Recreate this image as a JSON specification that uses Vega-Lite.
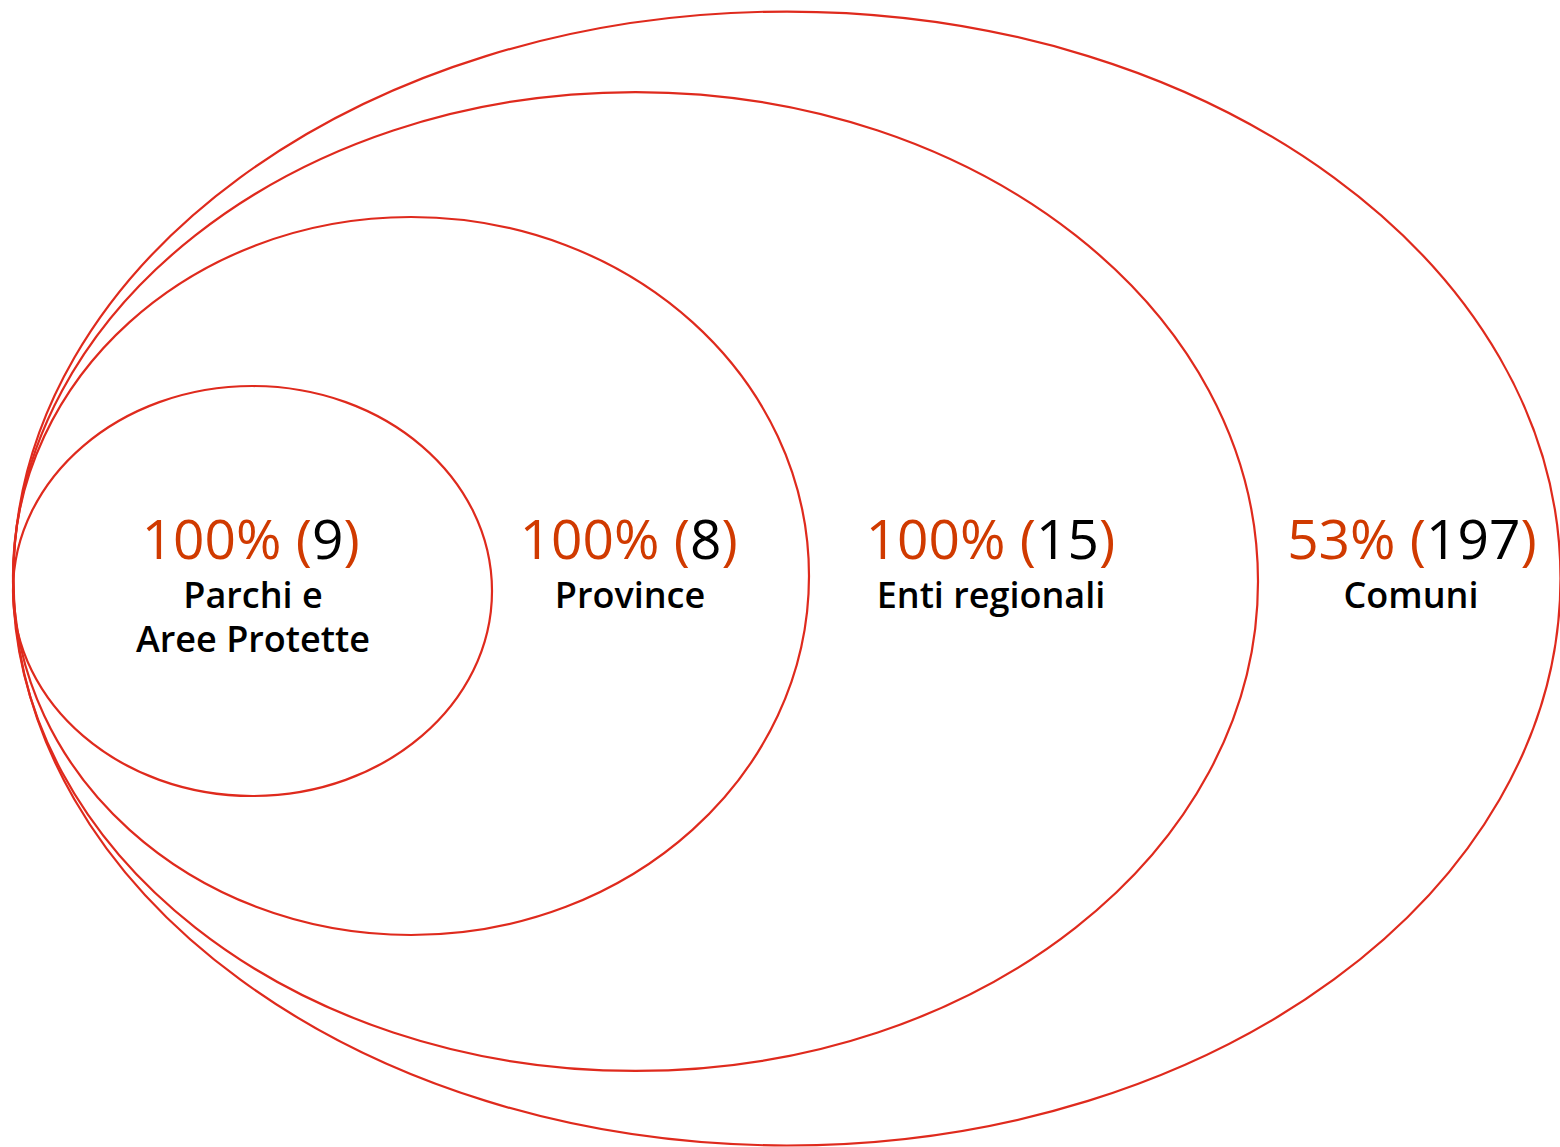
{
  "$schema": "https://vega.github.io/schema/vega-lite/v6.json",
  "autosize": {"type": "none"},
  "width": 1560,
  "height": 1147,
  "padding": 0,
  "background": "white",
  "config": {"view": {"stroke": null}},
  "datasets": {
    "ellipses": [
      {"name": "Comuni", "cx": 787, "cy": 578.5, "w": 1547},
      {"name": "Enti regionali", "cx": 635.5, "cy": 581.5, "w": 1245},
      {"name": "Province", "cx": 411, "cy": 576, "w": 796},
      {"name": "Parchi e Aree Protette", "cx": 252.5, "cy": 591, "w": 479}
    ],
    "labels": [
      {"name": "Parchi e\nAree Protette", "pct": "100% (", "num": "9", "cx": 253, "a": 312, "b": 343.5},
      {"name": "Province", "pct": "100% (", "num": "8", "cx": 630, "a": 690, "b": 721.5},
      {"name": "Enti regionali", "pct": "100% (", "num": "15", "cx": 991, "a": 1036, "b": 1099},
      {"name": "Comuni", "pct": "53% (", "num": "197", "cx": 1411, "a": 1426, "b": 1520.4}
    ]
  },
  "layer": [
    {
      "data": {"name": "ellipses"},
      "mark": {"type": "point", "filled": false, "fill": null, "stroke": "#df2a1d", "strokeWidth": 2.2, "opacity": 1},
      "encoding": {
        "x": {"field": "cx", "type": "quantitative", "scale": {"domain": [0, 1560], "nice": false, "zero": false}, "axis": null},
        "y": {"field": "cy", "type": "quantitative", "scale": {"domain": [0, 1147], "nice": false, "zero": false, "reverse": true}, "axis": null},
        "size": {"field": "w", "type": "quantitative", "scale": {"type": "pow", "exponent": 2, "domain": [0, 2000], "range": [0, 4000000]}, "legend": null},
        "shape": {
          "field": "name", "type": "nominal", "legend": null,
          "scale": {
            "domain": ["Comuni", "Enti regionali", "Province", "Parchi e Aree Protette"],
            "range": [
              "M -1 0 C -1 -0.4048 -0.5523 -0.733 0 -0.733 C 0.5523 -0.733 1 -0.4048 1 0 C 1 0.4048 0.5523 0.733 0 0.733 C -0.5523 0.733 -1 0.4048 -1 0 Z",
              "M -1 0 C -1 -0.4343 -0.5523 -0.7863 0 -0.7863 C 0.5523 -0.7863 1 -0.4343 1 0 C 1 0.4343 0.5523 0.7863 0 0.7863 C -0.5523 0.7863 -1 0.4343 -1 0 Z",
              "M -1 0 C -1 -0.4982 -0.5523 -0.902 0 -0.902 C 0.5523 -0.902 1 -0.4982 1 0 C 1 0.4982 0.5523 0.902 0 0.902 C -0.5523 0.902 -1 0.4982 -1 0 Z",
              "M -1 0 C -1 -0.4727 -0.5523 -0.8559 0 -0.8559 C 0.5523 -0.8559 1 -0.4727 1 0 C 1 0.4727 0.5523 0.8559 0 0.8559 C -0.5523 0.8559 -1 0.4727 -1 0 Z"
            ]
          }
        }
      }
    },
    {
      "data": {"name": "labels"},
      "mark": {"type": "text", "align": "right", "baseline": "alphabetic", "font": "Open Sans", "fontSize": 55, "color": "#d03a00"},
      "encoding": {
        "x": {"field": "a", "type": "quantitative"},
        "y": {"datum": 559, "type": "quantitative"},
        "text": {"field": "pct", "type": "nominal"}
      }
    },
    {
      "data": {"name": "labels"},
      "mark": {"type": "text", "align": "left", "baseline": "alphabetic", "font": "Open Sans", "fontSize": 55, "color": "#000000"},
      "encoding": {
        "x": {"field": "a", "type": "quantitative"},
        "y": {"datum": 559, "type": "quantitative"},
        "text": {"field": "num", "type": "nominal"}
      }
    },
    {
      "data": {"name": "labels"},
      "mark": {"type": "text", "align": "left", "baseline": "alphabetic", "font": "Open Sans", "fontSize": 55, "color": "#d03a00"},
      "encoding": {
        "x": {"field": "b", "type": "quantitative"},
        "y": {"datum": 559, "type": "quantitative"},
        "text": {"value": ")"}
      }
    },
    {
      "data": {"name": "labels"},
      "mark": {"type": "text", "align": "center", "baseline": "alphabetic", "font": "Open Sans", "fontSize": 36, "fontWeight": 600, "color": "#000000", "lineBreak": "\n", "lineHeight": 44},
      "encoding": {
        "x": {"field": "cx", "type": "quantitative"},
        "y": {"datum": 608, "type": "quantitative"},
        "text": {"field": "name", "type": "nominal"}
      }
    }
  ]
}
